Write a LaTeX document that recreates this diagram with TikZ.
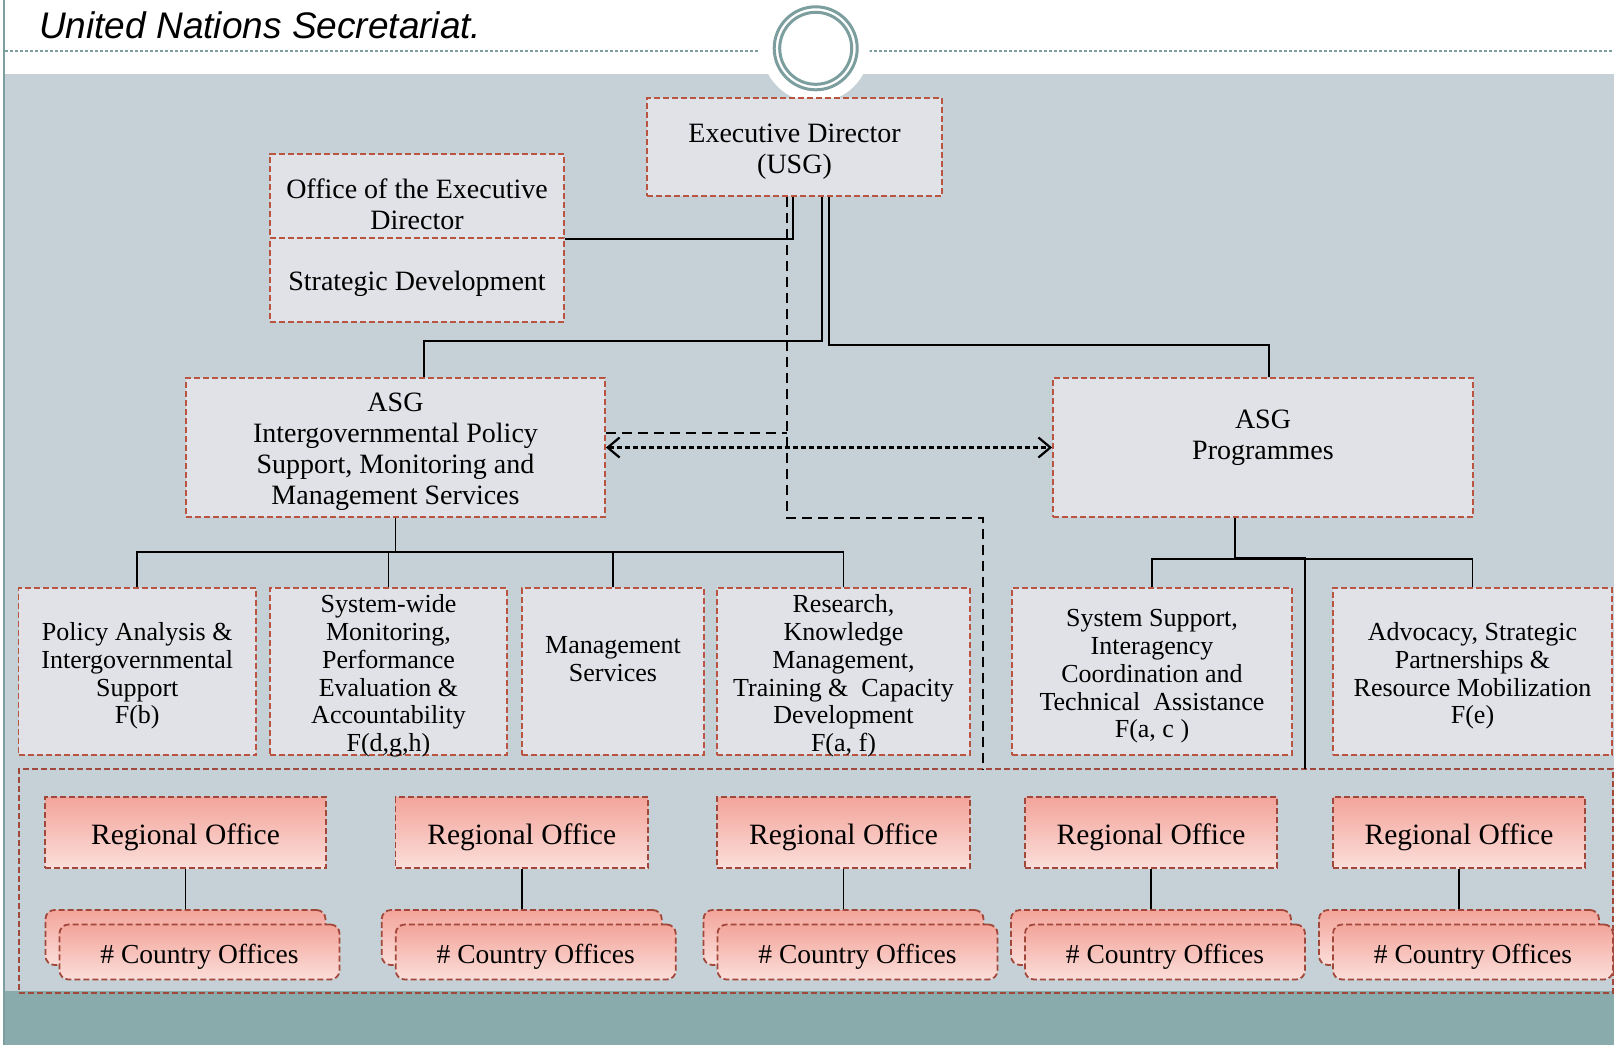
\documentclass[tikz,border=0pt]{standalone}
\usepackage{fontspec}
\setmainfont{Liberation Serif}
\newfontfamily\titlefont{Liberation Sans}
\usetikzlibrary{arrows.meta,shadings}
\definecolor{bgblue}{RGB}{197,209,215}
\definecolor{bandteal}{RGB}{138,171,171}
\definecolor{ringcol}{RGB}{124,158,158}
\definecolor{boxfill}{RGB}{224,226,231}
\definecolor{boxborder}{RGB}{184,84,64}
\definecolor{roborder}{RGB}{162,72,58}
\definecolor{rotop}{RGB}{243,164,154}
\definecolor{robot}{RGB}{251,222,218}
\begin{document}
\begin{tikzpicture}[x=1pt,y=-1pt,
  box/.style={draw=boxborder, fill=boxfill, line width=1.8pt, dash pattern=on 6pt off 3pt, rectangle, inner sep=0pt},
  txt/.style={inner sep=0pt, align=center, font=\fontsize{26}{27.8}\selectfont},
  bigfont/.style={font=\fontsize{28}{31}\selectfont},
  rofont/.style={inner sep=0pt, font=\fontsize{29.5}{32}\selectfont},
  cofont/.style={inner sep=0pt, font=\fontsize{27.5}{30}\selectfont},
  robox/.style={draw=roborder, top color=rotop, bottom color=robot, line width=1.8pt, dash pattern=on 6pt off 3pt, rectangle, inner sep=0pt, minimum height=71pt},
  card/.style={robox, rounded corners=9pt, minimum width=280pt, minimum height=55pt},
  outerbox/.style={draw=roborder, line width=1.8pt, dash pattern=on 6pt off 3pt, rectangle, inner sep=0pt},
  conn/.style={draw=black, line width=1.8pt},
  dconn/.style={draw=black, line width=1.5pt, dash pattern=on 10pt off 6pt},
  biarrow/.style={draw=black, line width=2.2pt, dash pattern=on 5pt off 3pt, {Straight Barb[length=12pt,width=20pt]}-{Straight Barb[length=12pt,width=20pt]}},
  topdash/.style={draw=ringcol, line width=1.5pt, dash pattern=on 3pt off 2pt},
  ring/.style={draw=ringcol, line width=3pt},
]
\useasboundingbox (0,0) rectangle (1614,1045);
% background
\fill[white] (0,0) rectangle (1614,1045);
\fill[bgblue] (5,74) rectangle (1614,991);
\fill[bandteal] (5,991) rectangle (1614,1045);
\draw[draw=ringcol, line width=1.5pt] (4,0) -- (4,1045);
\draw[topdash] (5,51) -- (758,51);
\draw[topdash] (869,51) -- (1614,51);
\fill[white] (815.7,48.3) circle[radius=54pt];
\draw[ring] (815.7,48.3) circle[radius=41.5pt];
\draw[ring] (815.7,48.3) circle[radius=36pt];
\node[anchor=base west, inner sep=0pt, font=\titlefont\itshape\fontsize{37}{40}\selectfont] (title) at (39,38.5) {United Nations Secretariat.};

% outer frame for regional offices
\node[outerbox, minimum width=1594pt, minimum height=224pt] (outer) at (815.6,881) {};
\coordinate (dend) at (983,769);
\coordinate (pend) at (1304.6,769);

% top level
\node[box, minimum width=295pt, minimum height=98pt] (exec) at (794.5,147) {};
\node[txt, bigfont] (exect) at ([yshift=-4.5pt]exec.center) {Executive Director\\(USG)};
\node[box, minimum width=294pt, minimum height=83.7pt] (office) at (417,195.85) {};
\node[txt, bigfont] (officet) at (417,204) {Office of the Executive\\Director};
\node[box, minimum width=294pt, minimum height=84pt] (strat) at (417,279.7) {};
\node[txt, bigfont] (stratt) at ([yshift=-4.5pt]strat.center) {Strategic Development};

% ASG level
\node[box, minimum width=419pt, minimum height=139pt] (asgL) at (395.5,447.5) {};
\node[txt, bigfont] (asgLt) at ([yshift=-4.5pt]asgL.center) {ASG\\Intergovernmental Policy\\Support, Monitoring and\\Management Services};
\node[box, minimum width=420pt, minimum height=139pt] (asgR) at (1263,447.5) {};
\node[txt, bigfont] (asgRt) at (1263,437.5) {ASG\\Programmes};

% level 3
\node[box, minimum width=237.5pt, minimum height=167pt] (b1) at (137.25,671.5) {};
\node[txt] (b1t) at ([yshift=-4.5pt]b1.center) {Policy Analysis \&\\Intergovernmental\\Support\\F(b)};
\node[box, minimum width=237pt, minimum height=167pt] (b2) at (388.5,671.5) {};
\node[txt] (b2t) at ([yshift=-4.5pt]b2.center) {System-wide\\Monitoring,\\Performance\\Evaluation \&\\Accountability\\F(d,g,h)};
\node[box, minimum width=182pt, minimum height=167pt] (b3) at (613,671.5) {};
\node[txt] (b3t) at (613,659) {Management\\Services};
\node[box, minimum width=253pt, minimum height=167pt] (b4) at (843.5,671.5) {};
\node[txt] (b4t) at ([yshift=-4.5pt]b4.center) {Research,\\Knowledge\\Management,\\Training \&~ Capacity\\Development\\F(a, f)};
\node[box, minimum width=280pt, minimum height=167pt] (b5) at (1152,671.5) {};
\node[txt] (b5t) at ([yshift=-5pt]b5.center) {System Support,\\Interagency\\Coordination and\\Technical~ Assistance\\F(a, c )};
\node[box, minimum width=279pt, minimum height=167pt] (b6) at (1472.5,671.5) {};
\node[txt] (b6t) at ([yshift=-4.5pt]b6.center) {Advocacy, Strategic\\Partnerships \&\\Resource Mobilization\\F(e)};

% regional offices
\node[robox, minimum width=281pt] (ro1) at (185.5,832.5) {};
\node[robox, minimum width=252.5pt] (ro2) at (521.75,832.5) {};
\node[robox, minimum width=253pt] (ro3) at (843.5,832.5) {};
\node[robox, minimum width=252pt] (ro4) at (1151,832.5) {};
\node[robox, minimum width=252pt] (ro5) at (1459,832.5) {};
\foreach \i in {1,...,5}{
  \node[rofont] (ro\i t) at ([yshift=-4.5pt]ro\i.center) {Regional Office};
}

% country offices
\node[card] (cb1) at (185.5,937.5) {};
\node[card] (cf1) at (199.5,952) {};
\node[card] (cb2) at (521.75,937.5) {};
\node[card] (cf2) at (535.75,952) {};
\node[card] (cb3) at (843.5,937.5) {};
\node[card] (cf3) at (857.5,952) {};
\node[card] (cb4) at (1151,937.5) {};
\node[card] (cf4) at (1165,952) {};
\node[card] (cb5) at (1459,937.5) {};
\node[card] (cf5) at (1473,952) {};
\foreach \i in {1,...,5}{
  \node[cofont] (cf\i t) at ([yshift=-4.5pt]cf\i.center) {\# Country Offices};
}

% connectors
\draw[conn] ([xshift=-1.5pt]exec.south) |- (office.south east);
\draw[conn] ([xshift=27.5pt]exec.south) -- ++(0,144) -| ([xshift=28.5pt]asgL.north);
\draw[conn] ([xshift=34.5pt]exec.south) -- ++(0,148) -| ([xshift=6pt]asgR.north);
\draw[dconn] ([xshift=-7.5pt]exec.south) -- ++(0,321) -| (dend);
\draw[dconn] ([yshift=14.5pt]asgL.east) -- ++(181.5,0);
\draw[biarrow] (asgL.east) -- (asgR.west);
\draw[conn] (asgL.south) -- ++(0,35.5);
\draw[conn] (b1.north) -- ++(0,-35.5) -| (b4.north);
\draw[conn] (b2.north) -- ++(0,-35.5);
\draw[conn] (b3.north) -- ++(0,-35.5);
\draw[conn] ([xshift=-28pt]asgR.south) -- ++(0,39.5) -| (pend);
\draw[conn] (b5.north) -- ++(0,-28.5) -| (b6.north);
\draw[conn] (ro1.south) -- (cb1.north);
\draw[conn] (ro2.south) -- (cb2.north);
\draw[conn] (ro3.south) -- (cb3.north);
\draw[conn] (ro4.south) -- (cb4.north);
\draw[conn] (ro5.south) -- (cb5.north);
\end{tikzpicture}
\end{document}
